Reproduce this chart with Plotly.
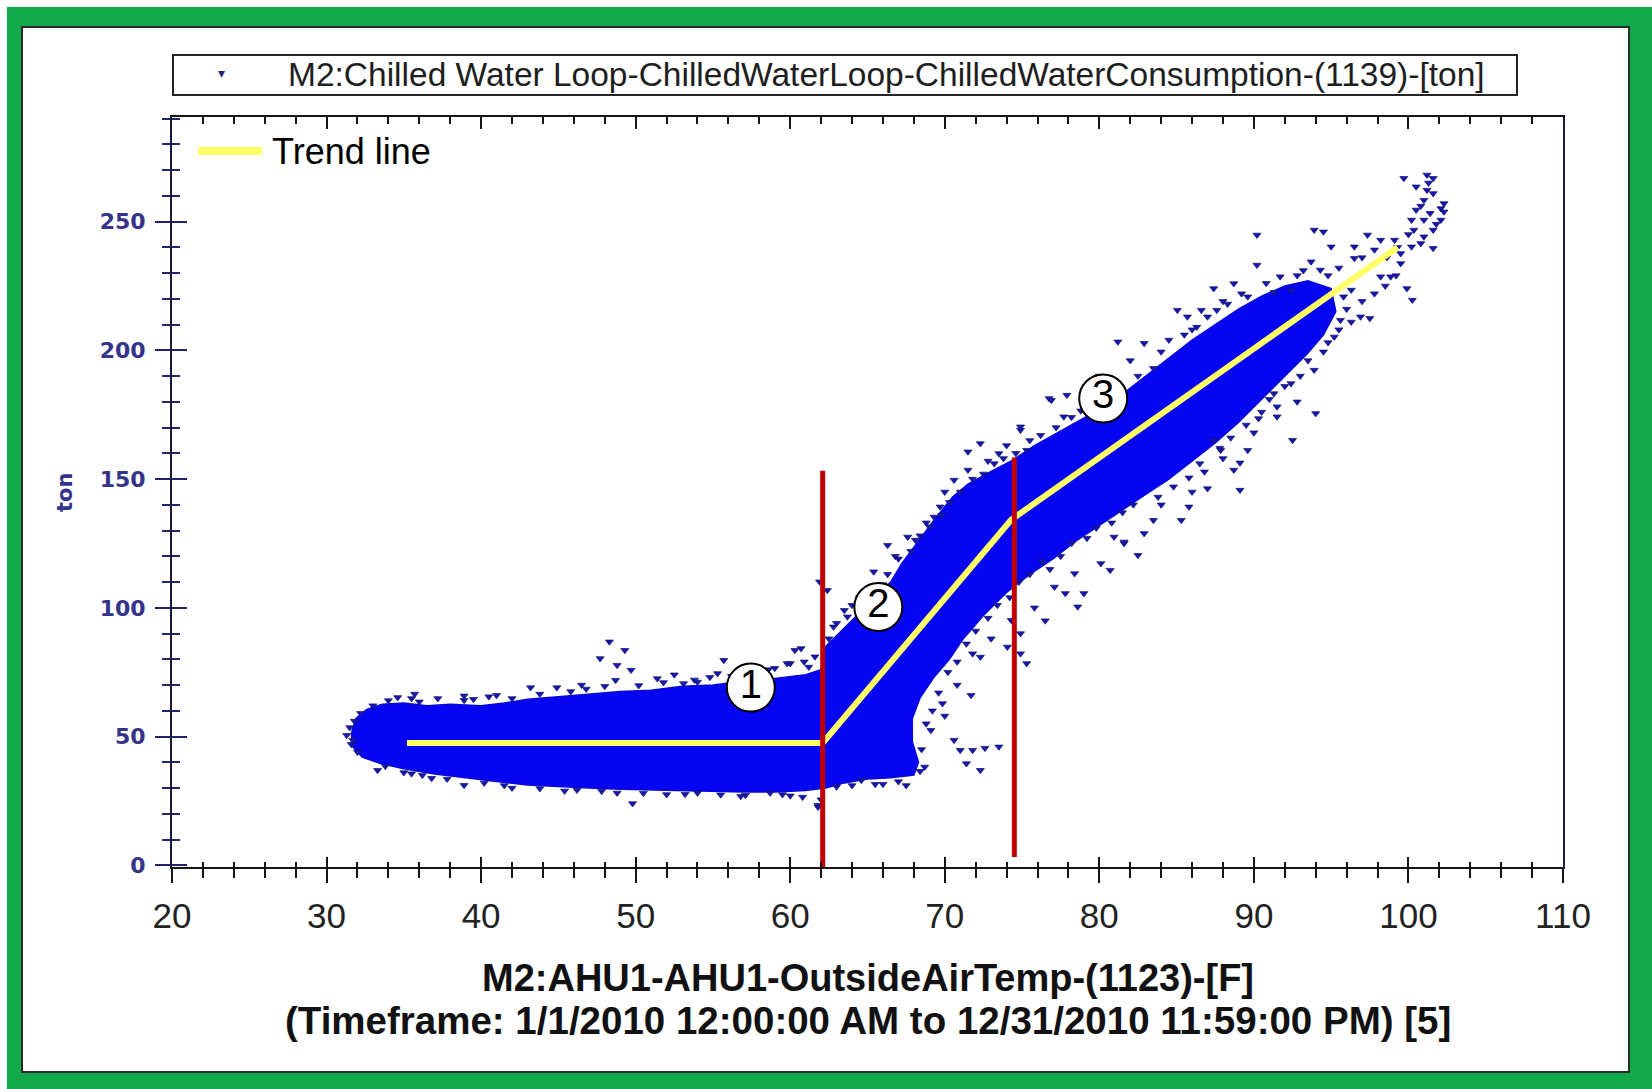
import plotly.graph_objects as go

# ---------------------------------------------------------------- data
SERIES_NAME = "M2:Chilled Water Loop-ChilledWaterLoop-ChilledWaterConsumption-(1139)-[ton]"
X_TITLE = "M2:AHU1-AHU1-OutsideAirTemp-(1123)-[F]"
X_SUBTITLE = "(Timeframe: 1/1/2010 12:00:00 AM to 12/31/2010 11:59:00 PM) [5]"
Y_TITLE = "ton"
TREND_NAME = "Trend line"

X_RANGE = [20, 110]
Y_RANGE = [-0.66, 290.6]

# outline of the dense core of hourly readings (outside air temp F, tons)
CLOUD_X = [31.6, 31.9, 32.6, 33.6, 35.0, 36.5, 38.0, 40.0, 41.5, 43.0, 45.0, 47.0,
           49.0, 51.0, 53.0, 55.0, 57.0, 59.0, 61.0, 62.0, 62.3, 63.3, 64.3, 65.5,
           66.5, 67.2, 68.3, 69.3, 70.5, 71.5, 73.0, 74.3, 75.8, 77.0, 78.5, 80.0,
           81.5, 83.0, 84.5, 86.0, 87.5, 89.0, 90.5, 92.0, 93.5, 95.0,
           95.3, 94.5, 93.5, 92.0, 90.5, 89.0, 87.5, 86.0, 84.5, 83.0, 81.5, 80.0,
           78.5, 77.0, 75.5, 74.0, 72.5, 71.2, 70.3, 69.3, 68.4, 67.9, 67.9, 68.3,
           68.0, 66.5, 65.0, 63.5, 62.3, 61.0, 59.0, 57.0, 55.0, 53.0, 51.0, 49.0,
           47.0, 45.0, 43.0, 41.0, 39.0, 37.0, 35.0, 33.5, 32.3, 31.7]
CLOUD_Y = [51.0, 57.0, 60.5, 62.5, 63.0, 62.0, 62.5, 62.0, 63.0, 64.5, 65.5, 66.5,
           67.5, 68.0, 69.5, 70.0, 71.5, 72.5, 74.0, 76.0, 85.0, 91.0, 97.0, 104.0,
           110.0, 117.0, 126.0, 134.0, 143.0, 148.0, 153.0, 157.0, 163.0, 167.0, 172.0, 177.0,
           183.0, 190.0, 197.0, 204.0, 210.0, 216.0, 221.0, 225.0, 227.0, 224.0,
           215.0, 206.0, 199.0, 190.0, 181.0, 172.0, 164.0, 157.0, 150.0, 144.0, 138.0, 132.0,
           126.0, 119.0, 113.0, 106.0, 97.0, 88.0, 80.0, 73.0, 65.0, 57.0, 48.0, 40.0,
           35.0, 34.0, 33.5, 32.0, 30.0, 29.0, 28.5, 28.5, 28.7, 29.0, 29.2, 29.5,
           30.0, 30.5, 31.2, 32.5, 34.0, 35.5, 37.5, 39.5, 42.0, 46.0]

# scattered readings around the edge of the core
FRINGE_X = [48.3, 49.3, 49.7, 47.7, 48.8, 48.7, 51.4, 43.2, 44.9, 34.6, 35.5, 38.9,
            55.7, 55.3, 60.3, 60.0, 60.9, 54.0, 53.1, 35.7, 38.9, 41.0, 46.5, 57.0,
            59.0, 52.5, 61.9, 62.4, 59.8, 60.7,
            33.0, 34.0, 36.0, 37.2, 39.5, 40.5, 42.0, 43.8, 45.8, 46.8, 48.0, 50.2,
            51.8, 53.8, 54.8, 56.2, 57.8, 58.6, 61.2, 61.6,
            49.8, 57.1, 38.9, 45.4, 48.8, 54.0, 58.7, 33.3, 35.5, 31.7, 32.0, 61.8,
            61.8, 42.0, 52.0, 60.0, 36.8,
            33.8, 35.0, 36.2, 37.8, 40.2, 41.5, 43.8, 46.2, 47.8, 50.5, 53.2, 55.5,
            56.8, 59.5, 60.8, 62.0, 31.3, 31.5, 31.8, 32.2, 31.6,
            66.3, 68.1, 69.3, 70.6, 71.5, 72.3, 73.5, 74.9, 75.3, 76.9, 77.9, 77.7,
            71.5, 69.7, 67.6, 63.7, 62.8, 64.5, 65.4, 66.8, 68.8, 70.0, 72.8, 74.0,
            62.5, 63.0, 63.5, 64.0, 66.0, 66.3, 67.0, 67.8, 68.4, 69.0, 69.8, 70.3,
            71.0, 71.8, 72.5, 73.2, 73.8, 74.6, 75.5, 76.2, 77.2, 78.2, 78.8, 79.5,
            71.7, 69.85, 69.1, 70.6, 71.0, 71.8, 71.4, 72.3, 73.5, 72.3, 71.8, 74.05,
            74.9, 74.3, 74.9, 75.3, 77.1, 77.8, 78.6, 79.0, 80.1, 80.7, 81.6, 78.4,
            80.95, 68.7, 64.6, 66.0, 70.0, 70.8, 72.6, 73.0, 75.8, 76.5,
            68.5, 68.8, 69.2, 69.6, 70.2, 70.8, 71.4, 72.0, 72.8, 73.4, 74.2, 74.8,
            75.5, 76.3, 76.8, 77.5, 78.2, 79.2, 79.8, 80.8, 81.5, 82.2,
            63.0, 64.0, 65.5, 67.0, 67.5, 68.4,
            76.75, 74.9, 81.2, 82.9, 84.0, 85.05, 85.7, 86.6, 87.4, 88.7, 90.2, 90.2,
            91.7, 93.7, 93.9, 94.5, 95.0, 96.5, 97.35, 96.5, 98.2, 99.1, 94.3, 87.6,
            89.6, 92.4, 80.0, 82.0, 79.0, 86.0, 88.0,
            80.5, 81.0, 82.5, 83.5, 84.5, 85.5, 86.3, 87.0, 88.3, 89.2, 90.8, 91.3,
            92.8, 93.2, 94.8, 95.5, 97.0, 97.8, 98.6, 99.3,
            95.8, 96.9, 97.5, 96.3, 99.9, 100.25, 98.85, 98.2, 99.5, 95.6, 95.2, 94.5,
            94.0, 92.5, 91.5, 90.3, 91.5, 87.85, 88.7, 89.6, 89.1, 87.0, 86.8, 87.4,
            85.3, 85.8, 83.5, 82.5, 82.9, 81.6, 89.1, 91.3, 92.4, 93.9, 84.0, 86.0,
            88.0, 90.0, 92.8, 96.0,
            83.8, 84.8, 85.8, 86.5, 87.8, 88.5, 89.5, 90.5, 91.0, 92.0, 93.0, 93.5,
            94.8, 95.5, 96.3, 97.0, 97.8, 98.5, 99.2,
            99.7, 101.2, 101.6, 100.5, 101.6, 102.3, 101.0, 102.1, 100.5, 101.4, 100.2, 101.0,
            102.1, 100.35, 101.6, 101.0, 100.2, 101.6, 102.3, 101.2, 100.8, 99.5, 100.8, 101.8,
            100.0, 101.3]
FRINGE_Y = [86.8, 83.5, 75.8, 80.3, 77.7, 71.9, 72.5, 69.0, 69.0, 65.2, 64.8, 64.1,
            79.6, 74.5, 83.5, 78.4, 79.0, 71.2, 70.6, 66.5, 65.8, 66.0, 70.0, 75.5,
            76.5, 74.0, 110.1, 106.8, 78.4, 84.2,
            62.0, 64.0, 63.5, 64.8, 64.5, 65.5, 64.8, 66.5, 67.5, 68.5, 69.5, 69.8,
            71.0, 72.0, 73.0, 73.5, 74.5, 76.0, 77.0, 81.0,
            24.0, 27.2, 31.1, 28.9, 28.1, 28.1, 28.1, 36.9, 35.6, 48.6, 44.0, 23.3,
            22.6, 30.0, 27.5, 27.0, 33.8,
            38.5, 36.0, 35.0, 33.5, 32.0, 31.0, 29.8, 29.2, 28.8, 28.0, 27.6, 27.4,
            26.8, 27.5, 26.5, 25.5, 50.5, 53.5, 56.0, 59.0, 47.0,
            124.3, 126.3, 135.3, 149.6, 160.6, 163.8, 159.9, 169.0, 161.2, 180.6, 182.6, 174.2,
            153.5, 139.2, 127.5, 96.5, 92.6, 104.0, 114.0, 120.0, 133.0, 145.0, 157.0, 163.0,
            88.0, 94.0, 99.0, 101.0, 109.0, 113.0, 119.0, 122.0, 128.0, 131.5, 136.0, 141.0,
            145.0, 150.0, 152.0, 156.0, 158.0, 160.0, 165.0, 167.0, 170.0, 174.0, 176.5, 178.0,
            66.0, 62.8, 52.4, 48.6, 44.7, 44.7, 39.5, 36.9, 46.0, 80.9, 82.2, 84.8,
            90.0, 95.2, 82.2, 78.4, 108.1, 105.6, 100.4, 105.6, 117.2, 114.6, 125.0, 113.3,
            127.5, 38.2, 33.0, 31.5, 58.0, 70.0, 45.5, 88.0, 100.0, 95.0,
            45.0, 55.0, 60.0, 67.0, 75.0, 79.0, 86.0, 91.0, 96.0, 101.0, 104.0, 110.0,
            113.0, 118.0, 115.0, 120.0, 125.0, 127.0, 131.0, 133.0, 137.0, 140.0,
            30.5, 31.0, 31.5, 32.5, 31.0, 36.5,
            181.3, 170.3, 203.3, 202.7, 199.4, 215.6, 213.0, 215.6, 224.0, 225.9, 244.8, 233.1,
            228.6, 234.4, 246.7, 246.0, 240.2, 240.2, 244.8, 235.7, 242.8, 242.8, 231.2, 215.6,
            220.8, 223.4, 190.0, 196.0, 184.0, 208.0, 219.0,
            182.0, 186.0, 190.0, 193.0, 204.0, 206.0, 209.0, 213.0, 218.0, 222.0, 226.0, 222.5,
            229.0, 231.0, 229.0, 232.0, 236.0, 239.0, 236.0, 240.0,
            220.8, 213.0, 212.4, 223.4, 224.0, 219.5, 228.6, 228.6, 233.7, 211.7, 205.2, 199.4,
            175.5, 165.1, 174.2, 173.5, 178.1, 161.2, 153.5, 161.2, 145.7, 146.3, 152.8, 165.1,
            134.0, 139.2, 134.0, 120.4, 128.9, 125.6, 156.3, 183.2, 187.1, 192.3, 140.0, 145.0,
            158.0, 168.0, 180.0, 216.0,
            143.0, 147.0, 150.5, 156.0, 162.0, 166.0, 171.0, 176.0, 181.0, 186.0, 190.0, 196.0,
            203.0, 208.0, 211.0, 219.0, 222.0, 225.0, 229.0,
            266.8, 268.1, 266.8, 263.5, 260.9, 257.0, 258.3, 255.1, 254.5, 253.2, 250.6, 250.6,
            250.6, 246.7, 246.7, 244.1, 240.2, 239.6, 253.8, 262.2, 241.5, 237.6, 256.0, 249.0,
            245.0, 265.0]

# piecewise trend of consumption vs. outside air temperature
TREND_X = [35.2, 62.1, 74.3, 99.3]
TREND_Y = [47.5, 47.5, 134.2, 240.0]

# temperature break points separating the three regimes
SPLIT_X = [62.1, 74.5]
SPLIT_Y_LOW = [-2.0, 3.2]
SPLIT_Y_HIGH = [153.2, 158.4]

# regime markers
REGION_X = [57.45, 65.7, 80.25]
REGION_Y = [69.0, 100.3, 181.3]
REGION_LABELS = ["1", "2", "3"]

# ---------------------------------------------------------------- layout geometry
W, H = 1652, 1089
ML, MR, MT, MB = 172, 89, 117, 222
PW, PH = W - ML - MR, H - MT - MB


def px(x):
    """figure pixel column -> paper x"""
    return (x - ML) / PW


def py(y):
    """figure pixel row -> paper y"""
    return (H - MB - y) / PH


SANS = "Liberation Sans, Arial, sans-serif"
DEJAVU = "DejaVu Sans, sans-serif"
NAVY = "#24246e"
LABEL_NAVY = "#34348a"
CLOUD_BLUE = "#0505f2"

fig = go.Figure()

# dense core of readings
fig.add_trace(go.Scatter(
    x=CLOUD_X + CLOUD_X[:1], y=CLOUD_Y + CLOUD_Y[:1],
    mode="lines", fill="toself", fillcolor=CLOUD_BLUE,
    line=dict(color="#0808d8", width=1.5),
    showlegend=False, hoverinfo="skip"))

# individual outlying readings
fig.add_trace(go.Scatter(
    x=FRINGE_X, y=FRINGE_Y, mode="markers", name=SERIES_NAME,
    marker=dict(symbol="triangle-down", size=7, color="#1515b4",
                line=dict(width=0.7, color="#151560")),
    showlegend=False))

# trend line
fig.add_trace(go.Scatter(
    x=TREND_X, y=TREND_Y, mode="lines", name=TREND_NAME,
    line=dict(color="#ffff66", width=6), showlegend=False))

# break-point lines
split_x, split_y = [], []
for xv, y0, y1 in zip(SPLIT_X, SPLIT_Y_LOW, SPLIT_Y_HIGH):
    split_x += [xv, xv, None]
    split_y += [y0, y1, None]
fig.add_trace(go.Scatter(
    x=split_x, y=split_y, mode="lines", cliponaxis=False,
    line=dict(color="#c00000", width=5), showlegend=False, hoverinfo="skip"))

# circled regime numbers
fig.add_trace(go.Scatter(
    x=REGION_X, y=REGION_Y, mode="markers+text", text=REGION_LABELS,
    textposition="middle center",
    textfont=dict(family=SANS, size=40, color="#000000"),
    marker=dict(symbol="circle", size=48, color="#ffffff",
                line=dict(color="#000000", width=2)),
    showlegend=False, hoverinfo="skip"))

# empty traces that carry the overlay axes used for crossing ticks
fig.add_trace(go.Scatter(x=[], y=[], xaxis="x2", yaxis="y", showlegend=False))
fig.add_trace(go.Scatter(x=[], y=[], xaxis="x3", yaxis="y", showlegend=False))
fig.add_trace(go.Scatter(x=[], y=[], xaxis="x", yaxis="y2", showlegend=False))

AX_BLACK = "#161616"

fig.update_layout(
    width=W, height=H,
    margin=dict(l=ML, r=MR, t=MT, b=MB, autoexpand=False),
    paper_bgcolor="#ffffff", plot_bgcolor="#ffffff",
    showlegend=False,
    xaxis=dict(
        range=X_RANGE, side="bottom", showgrid=False, zeroline=False,
        showline=True, linecolor=AX_BLACK, linewidth=2, mirror=True,
        ticks="outside", ticklen=14, tickwidth=2, tickcolor=AX_BLACK,
        tick0=0, dtick=10,
        minor=dict(ticks="outside", ticklen=9, tickwidth=2, tickcolor=AX_BLACK, dtick=2),
        tickfont=dict(family=SANS, size=35, color="#222222"),
        ticklabelstandoff=3,
    ),
    xaxis2=dict(
        range=X_RANGE, overlaying="x", side="bottom", anchor="y",
        showgrid=False, zeroline=False, showline=False, showticklabels=False,
        ticks="inside", ticklen=10, tickwidth=2, tickcolor=AX_BLACK,
        tick0=0, dtick=10,
        minor=dict(ticks="inside", ticklen=5, tickwidth=2, tickcolor=AX_BLACK, dtick=2),
    ),
    xaxis3=dict(
        range=X_RANGE, overlaying="x", side="top", anchor="y",
        showgrid=False, zeroline=False, showline=False, showticklabels=False,
        ticks="inside", ticklen=12, tickwidth=2, tickcolor=AX_BLACK,
        tick0=0, dtick=10,
        minor=dict(ticks="inside", ticklen=7, tickwidth=2, tickcolor=AX_BLACK, dtick=2),
    ),
    yaxis=dict(
        range=Y_RANGE, showgrid=False, zeroline=False,
        showline=True, linecolor="#1a1a3a", linewidth=2, mirror=True,
        ticks="outside", ticklen=15, tickwidth=2, tickcolor=NAVY,
        tick0=0, dtick=50,
        minor=dict(ticks="outside", ticklen=8, tickwidth=2, tickcolor=NAVY, dtick=10),
        tickfont=dict(family="DejaVu Sans Bold, DejaVu Sans, sans-serif", size=22,
                      color=LABEL_NAVY, weight="bold"),
        ticklabelstandoff=5,
    ),
    yaxis2=dict(
        range=Y_RANGE, overlaying="y", side="left", anchor="x",
        showgrid=False, zeroline=False, showline=False, showticklabels=False,
        ticks="inside", ticklen=15, tickwidth=2, tickcolor=NAVY,
        tick0=0, dtick=50,
        minor=dict(ticks="inside", ticklen=8, tickwidth=2, tickcolor=NAVY, dtick=10),
    ),
)

# green frame and inner white panel
fig.add_shape(type="rect", xref="paper", yref="paper", layer="below",
              x0=px(7), x1=px(W + 4), y0=py(H + 4), y1=py(7),
              fillcolor="#12a84c", line=dict(width=0))
fig.add_shape(type="rect", xref="paper", yref="paper", layer="below",
              x0=px(22), x1=px(1629), y0=py(1072), y1=py(27),
              fillcolor="#ffffff", line=dict(color="#2b2b2b", width=2))

# series key box above the plot
fig.add_shape(type="rect", xref="paper", yref="paper", layer="above",
              x0=px(173), x1=px(1517), y0=py(95), y1=py(55),
              fillcolor="rgba(0,0,0,0)", line=dict(color="#262626", width=2))
fig.add_annotation(xref="paper", yref="paper", x=px(221), y=py(73),
                   text="▾", showarrow=False, xanchor="center", yanchor="middle",
                   font=dict(family=DEJAVU, size=14, color=NAVY))
fig.add_annotation(xref="paper", yref="paper", x=px(286), y=py(75),
                   text=SERIES_NAME, showarrow=False, xanchor="left", yanchor="middle",
                   font=dict(family=SANS, size=33.5, color="#1e1e1e"))

# trend line key inside the plot
fig.add_shape(type="line", xref="paper", yref="paper", layer="above",
              x0=px(198), x1=px(262), y0=py(151), y1=py(151),
              line=dict(color="#ffff66", width=8))
fig.add_annotation(xref="paper", yref="paper", x=px(270), y=py(151),
                   text=TREND_NAME, showarrow=False, xanchor="left", yanchor="middle",
                   font=dict(family=SANS, size=36, color="#000000"))

# axis titles
fig.add_annotation(xref="paper", yref="paper", x=px(868), y=py(978),
                   text="<b>%s</b>" % X_TITLE, showarrow=False,
                   xanchor="center", yanchor="middle",
                   font=dict(family=SANS, size=38, color="#111111"))
fig.add_annotation(xref="paper", yref="paper", x=px(868), y=py(1020),
                   text="<b>%s</b>" % X_SUBTITLE, showarrow=False,
                   xanchor="center", yanchor="middle",
                   font=dict(family=SANS, size=38.5, color="#111111"))
fig.add_annotation(xref="paper", yref="paper", x=px(65), y=py(493),
                   text="<b>%s</b>" % Y_TITLE, showarrow=False, textangle=-90,
                   xanchor="center", yanchor="middle",
                   font=dict(family=DEJAVU, size=21, color=LABEL_NAVY))

fig.write_html("out.html")
